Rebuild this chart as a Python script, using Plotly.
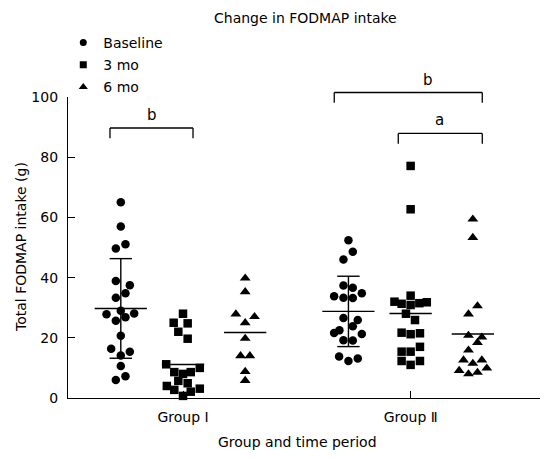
import numpy as np
import plotly.graph_objects as go

# ---------------- data ----------------
groups = ["Group Ⅰ", "Group Ⅱ"]
periods = ["Baseline", "3 mo", "6 mo"]

g1_baseline = [65.0, 57.0, 49.7, 51.1, 38.9, 37.5, 33.3, 34.8, 27.8, 29.0,
               28.1, 25.7, 26.8, 20.7, 16.4, 15.4, 14.1, 10.6, 6.0, 7.2]
g1_3mo = [28.0, 25.0, 24.8, 22.0, 19.7, 11.2, 10.0, 8.6, 8.0, 8.6,
          5.7, 4.9, 4.0, 2.7, 2.1, 3.1, 0.7]
g1_6mo = [39.8, 35.3, 27.9, 27.0, 25.0, 19.8, 14.0, 14.0, 8.8, 5.8]

g2_baseline = [52.4, 48.6, 46.0, 37.4, 36.6, 33.8, 33.3, 33.2, 34.8, 26.6,
               25.9, 23.8, 22.5, 21.6, 21.3, 19.2, 19.1, 13.8, 12.3, 13.1]
g2_3mo = [77.1, 62.7, 34.0, 32.0, 31.3, 30.9, 31.5, 31.8, 28.0, 25.9,
          21.7, 21.2, 21.5, 15.4, 15.4, 17.0, 12.3, 11.0, 12.3]
g2_6mo = [59.4, 53.3, 30.6, 27.9, 20.8, 20.2, 18.4, 15.9, 12.6, 12.6,
          11.5, 9.1, 9.9, 8.0, 8.5]

# horizontal scatter (beeswarm) spread of each point, in column widths
g1_baseline_spread = [0, 0, -0.08, 0.075, -0.08, 0.145, -0.08, 0.075, -0.23, 0,
                      0.215, -0.08, 0.075, 0, -0.155, 0.145, 0, 0, -0.08, 0.075]
g1_3mo_spread = [0, -0.15, 0.075, -0.075, 0.075, -0.27, 0.27, -0.14, 0, 0.125,
                 -0.075, 0.075, -0.26, -0.14, 0.125, 0.27, 0]
g1_6mo_spread = [0, 0, -0.15, 0.15, 0, 0, -0.075, 0.075, 0, 0]
g2_baseline_spread = [0, 0.07, -0.08, -0.08, 0.07, -0.23, -0.08, 0.07, 0.215, -0.08,
                      0.15, 0.07, -0.145, -0.23, 0.215, -0.08, 0.07, -0.15, 0, 0.15]
g2_3mo_spread = [0, 0, 0, -0.26, -0.145, 0, 0.14, 0.26, -0.075, 0.07,
                 -0.145, 0, 0.15, -0.145, 0, 0.15, -0.145, 0, 0.15]
g2_6mo_spread = [0, 0, 0.075, -0.07, -0.07, 0.145, 0.075, -0.07, -0.15, 0.145,
                 0, -0.22, 0.225, -0.07, 0.075]

y_ticks = [0, 20, 40, 60, 80, 100]

# ---------------- layout helpers ----------------
values = [[g1_baseline, g1_3mo, g1_6mo], [g2_baseline, g2_3mo, g2_6mo]]
spreads = [[g1_baseline_spread, g1_3mo_spread, g1_6mo_spread],
           [g2_baseline_spread, g2_3mo_spread, g2_6mo_spread]]
group_x = [2.0, 5.66]
period_offset = [-1, 0, 1]
symbols = ["circle", "square", "triangle-up"]
sizes = [8.5, 8.5, 9.5]
legend_sizes = [7, 7, 8]
XR = [0.151, 7.74]
YR = [0, 100]


def xd(v):
    return (v - XR[0]) / (XR[1] - XR[0])


def yd(v):
    return (v - YR[0]) / (YR[1] - YR[0])


FONT = "DejaVu Sans, Verdana, sans-serif"
fig = go.Figure()

for p, name in enumerate(periods):
    xs, ys = [], []
    for g in range(2):
        cx = group_x[g] + period_offset[p]
        xs += [cx + s for s in spreads[g][p]]
        ys += values[g][p]
    fig.add_trace(go.Scatter(
        x=xs, y=ys, mode="markers", name=name, legendgroup=name, showlegend=False,
        marker=dict(symbol=symbols[p], size=sizes[p], color="black",
                    line=dict(width=0)),
        cliponaxis=False))
    # legend entry (smaller symbol, as in the reference)
    fig.add_trace(go.Scatter(
        x=[None], y=[None], mode="markers", name=name, legendgroup=name,
        marker=dict(symbol=symbols[p], size=legend_sizes[p], color="black",
                    line=dict(width=0))))

# mean lines and SD bars
lx, ly = [], []
for g in range(2):
    for p in range(3):
        v = np.array(values[g][p])
        cx = group_x[g] + period_offset[p]
        m = v.mean()
        hw = 0.42 if p == 0 else 0.34
        lx += [cx - hw, cx + hw, None]
        ly += [m, m, None]
        if p == 0:
            sd = v.std(ddof=1)
            lx += [cx, cx, None, cx - 0.18, cx + 0.18, None, cx - 0.18, cx + 0.18, None]
            ly += [m - sd, m + sd, None, m + sd, m + sd, None, m - sd, m - sd, None]
fig.add_trace(go.Scatter(x=lx, y=ly, mode="lines", showlegend=False,
                         line=dict(color="black", width=1.4), hoverinfo="skip"))

# significance brackets: (x_left, x_right, y_top, label, label_x)
brackets = [
    (0.826, 2.161, 89.7, "b", 1.50),
    (4.432, 6.812, 101.5, "b", 5.934),
    (5.461, 6.812, 87.9, "a", 6.132),
]
for x0, x1, yt, lab, lxp in brackets:
    for (a0, b0, a1, b1) in [(x0, yt, x1, yt), (x0, yt, x0, yt - 3.4), (x1, yt, x1, yt - 3.4)]:
        fig.add_shape(type="line", xref="x domain", yref="y domain",
                      x0=xd(a0), y0=yd(b0), x1=xd(a1), y1=yd(b1),
                      line=dict(color="black", width=1.3))
    fig.add_annotation(xref="x domain", yref="y domain", x=xd(lxp), y=yd(yt + 4.3),
                       text=lab, showarrow=False, font=dict(size=15, color="black", family=FONT),
                       xanchor="center", yanchor="middle")

# chart title and axis titles
fig.add_annotation(xref="paper", yref="paper", x=(305 - 68) / 472, y=1 + (89 - 10) / 301,
                   text="Change in FODMAP intake", showarrow=False,
                   font=dict(size=14, color="black", family=FONT),
                   xanchor="center", yanchor="middle")
fig.add_annotation(xref="paper", yref="paper", x=(297 - 68) / 472, y=(398 - 442) / 301,
                   text="Group and time period", showarrow=False,
                   font=dict(size=14, color="black", family=FONT),
                   xanchor="center", yanchor="middle")
fig.add_annotation(xref="paper", yref="paper", x=(21 - 68) / 472, y=(398 - 247) / 301,
                   text="Total FODMAP intake (g)", showarrow=False, textangle=-90,
                   font=dict(size=14, color="black", family=FONT),
                   xanchor="center", yanchor="middle")

# page body has an 8px default margin, so the figure is 8px smaller and shifted
fig.update_layout(
    width=542, height=450,
    margin=dict(l=60, r=10, t=89, b=60, autoexpand=False),
    paper_bgcolor="white", plot_bgcolor="white",
    font=dict(family=FONT, size=14, color="black"),
    showlegend=True,
    legend=dict(x=-0.01, xanchor="left", y=(398 - 27) / 301, yanchor="top",
                traceorder="grouped", tracegroupgap=1,
                font=dict(size=14, color="black", family=FONT),
                bgcolor="rgba(0,0,0,0)", itemsizing="trace"),
    xaxis=dict(range=XR, showgrid=False, zeroline=False, showline=True,
               linecolor="black", linewidth=1.3, ticks="inside", ticklen=7,
               tickcolor="black", tickwidth=1.3,
               tickvals=group_x, ticktext=groups, ticklabelstandoff=6,
               tickfont=dict(size=14, color="black", family=FONT)),
    yaxis=dict(range=YR, showgrid=False, zeroline=False, showline=True,
               linecolor="black", linewidth=1.3, ticks="inside", ticklen=7,
               tickcolor="black", tickwidth=1.3, tickvals=y_ticks,
               ticklabelstandoff=6,
               tickfont=dict(size=14, color="black", family=FONT)),
)

fig.write_html("out.html")
